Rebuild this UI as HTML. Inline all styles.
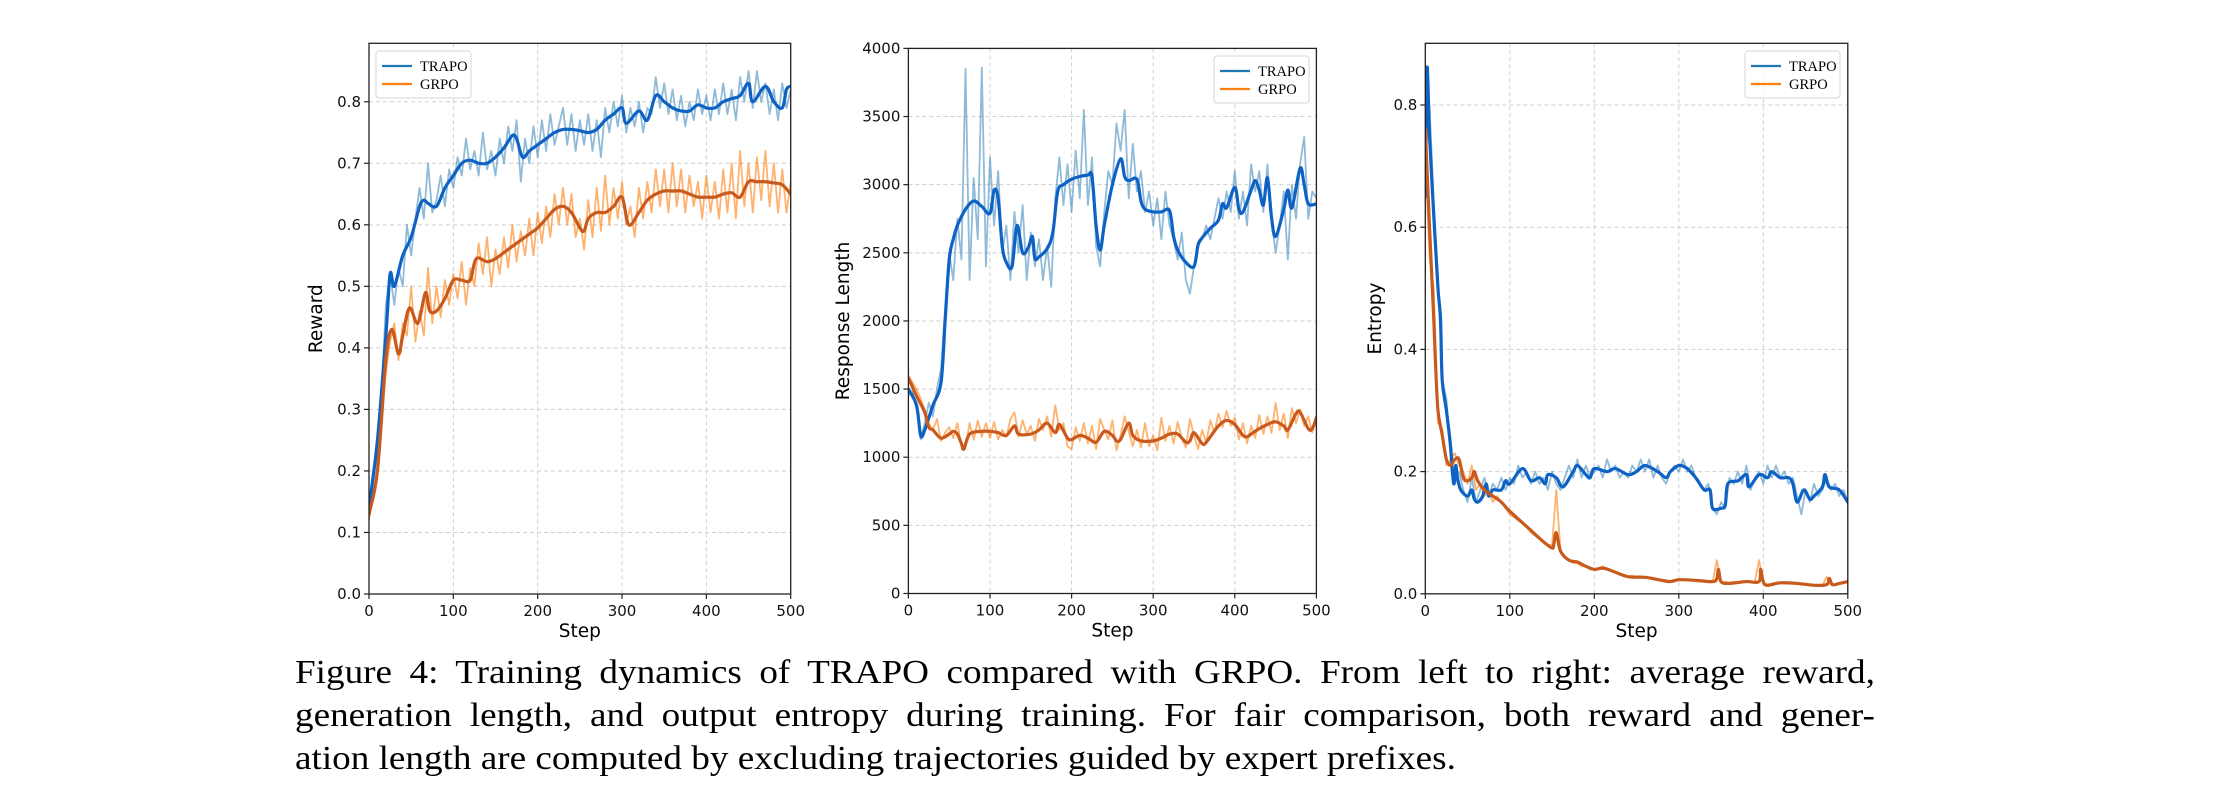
<!DOCTYPE html>
<html><head><meta charset="utf-8">
<style>
html,body{margin:0;padding:0;background:#fff;width:2214px;height:808px;overflow:hidden}
#fig{position:absolute;left:0;top:0}
#caption{position:absolute;left:295px;top:651px;width:1445.5px;transform:scaleX(1.093);transform-origin:0 0;font-family:"Liberation Serif",serif;font-size:34px;line-height:43px;color:#000;text-align:justify}
#caption span{display:block}
</style></head><body>
<svg id="fig" width="2214" height="650" xmlns="http://www.w3.org/2000/svg"></svg>
<div id="caption"><span style="text-align-last:justify">Figure 4: Training dynamics of TRAPO compared with GRPO. From left to right: average reward,</span><span style="text-align-last:justify">generation length, and output entropy during training. For fair comparison, both reward and gener-</span><span>ation length are computed by excluding trajectories guided by expert prefixes.</span></div>
<script>
// ---------- data ----------
const RAW_STEP = 5;
// Chart 1: reward
const rewardTrapoRaw=[0.15,0.20,0.22,0.33,0.47,0.52,0.47,0.53,0.50,0.60,0.55,0.61,0.66,0.61,0.70,0.62,0.64,0.68,0.63,0.69,0.66,0.71,0.68,0.74,0.69,0.72,0.68,0.75,0.69,0.72,0.68,0.74,0.70,0.76,0.72,0.77,0.67,0.74,0.70,0.76,0.71,0.77,0.72,0.78,0.73,0.76,0.79,0.73,0.78,0.72,0.77,0.73,0.78,0.72,0.77,0.71,0.79,0.75,0.80,0.76,0.81,0.75,0.79,0.76,0.80,0.75,0.79,0.78,0.84,0.79,0.83,0.78,0.82,0.77,0.81,0.76,0.80,0.77,0.82,0.78,0.81,0.77,0.82,0.78,0.83,0.78,0.82,0.77,0.84,0.80,0.85,0.79,0.85,0.80,0.83,0.78,0.82,0.77,0.83,0.79,0.82];
const rewardGrpoRaw=[0.12,0.16,0.19,0.30,0.36,0.41,0.44,0.38,0.44,0.42,0.50,0.41,0.46,0.42,0.53,0.44,0.50,0.45,0.51,0.47,0.52,0.48,0.54,0.47,0.53,0.50,0.57,0.52,0.58,0.50,0.56,0.52,0.58,0.53,0.60,0.54,0.59,0.55,0.61,0.55,0.62,0.57,0.63,0.58,0.65,0.60,0.66,0.60,0.65,0.58,0.61,0.56,0.64,0.58,0.66,0.59,0.68,0.60,0.66,0.61,0.67,0.60,0.63,0.58,0.66,0.61,0.67,0.62,0.69,0.63,0.69,0.62,0.70,0.63,0.69,0.62,0.68,0.63,0.67,0.61,0.68,0.62,0.67,0.61,0.69,0.62,0.70,0.61,0.72,0.63,0.70,0.62,0.71,0.64,0.72,0.63,0.70,0.62,0.69,0.62,0.67];
const rewardTrapoSteps=[0,10,20,25,30,40,50,60,65,70,80,90,100,110,120,130,140,150,160,170,175,182,190,200,210,220,230,240,250,260,270,280,290,300,305,320,330,340,350,360,370,380,390,400,410,420,430,440,450,455,470,480,490,495,500];
const rewardTrapoSmooth=[0.14,0.25,0.42,0.52,0.50,0.55,0.58,0.63,0.64,0.635,0.63,0.66,0.68,0.70,0.705,0.70,0.70,0.71,0.725,0.745,0.74,0.71,0.72,0.73,0.74,0.75,0.755,0.755,0.753,0.75,0.755,0.77,0.78,0.79,0.765,0.785,0.77,0.81,0.80,0.79,0.785,0.785,0.795,0.79,0.79,0.80,0.805,0.81,0.83,0.80,0.825,0.80,0.79,0.82,0.825];
const rewardGrpoSteps=[0,10,20,27,35,40,48,58,67,72,80,90,100,110,120,127,140,150,160,170,180,190,200,210,220,230,240,250,255,260,270,280,290,300,308,320,330,340,350,360,370,380,390,400,410,420,430,440,450,460,470,480,490,500];
const rewardGrpoSmooth=[0.13,0.20,0.38,0.43,0.39,0.42,0.465,0.44,0.49,0.46,0.46,0.48,0.51,0.51,0.51,0.545,0.54,0.545,0.555,0.565,0.575,0.585,0.595,0.61,0.625,0.63,0.62,0.595,0.59,0.61,0.62,0.62,0.63,0.645,0.60,0.62,0.64,0.65,0.655,0.655,0.655,0.65,0.645,0.645,0.645,0.65,0.652,0.645,0.67,0.67,0.67,0.668,0.665,0.65];
// Chart 2: response length
const lenTrapoRaw=[1450,1480,1350,1130,1250,1400,1300,1500,1650,2100,2500,2300,2750,2450,3850,2300,3050,2600,3860,2400,3200,2700,3100,2500,2700,2300,2800,2500,2850,2300,2650,2400,2600,2300,2550,2250,2900,3200,2850,3150,2800,3250,2900,3550,2850,3200,2550,2400,2800,3100,3000,3450,3250,3550,2900,3300,2950,3100,2800,2950,2700,2900,2600,2950,2700,2600,2450,2650,2300,2200,2400,2550,2600,2700,2600,2750,2900,2750,2950,2800,3100,2750,2950,2700,3150,2950,3100,2800,3150,2750,2500,2700,2950,2450,3000,2750,3150,3350,2750,2950,2900];
const lenGrpoRaw=[1600,1550,1500,1430,1350,1250,1200,1280,1120,1180,1220,1140,1250,1080,1070,1250,1130,1270,1150,1250,1140,1260,1130,1200,1150,1280,1330,1150,1270,1170,1230,1120,1280,1200,1300,1150,1380,1200,1250,1080,1060,1220,1120,1250,1100,1230,1060,1280,1200,1130,1270,1050,1160,1300,1190,1080,1200,1070,1250,1080,1160,1050,1290,1120,1230,1100,1260,1140,1070,1280,1160,1060,1200,1110,1270,1180,1320,1220,1340,1230,1290,1130,1250,1100,1230,1140,1310,1170,1300,1180,1400,1200,1320,1140,1360,1250,1350,1230,1300,1180,1310];
const lenTrapoSteps=[0,10,15,20,30,40,45,50,55,60,70,80,90,100,105,110,115,120,127,133,140,147,152,155,160,170,177,183,190,200,210,220,225,230,235,240,250,260,265,270,280,285,290,300,310,320,325,330,340,350,355,360,370,380,385,390,400,405,410,420,425,430,435,440,445,450,460,465,470,480,485,490,500];
const lenTrapoSmooth=[1500,1380,1160,1200,1380,1550,2000,2450,2600,2700,2820,2880,2840,2790,2960,2900,2550,2430,2400,2700,2500,2540,2620,2460,2470,2530,2650,2950,3000,3040,3060,3070,3060,2700,2520,2700,3000,3190,3060,3030,3040,2880,2820,2800,2800,2810,2620,2520,2430,2400,2560,2610,2680,2740,2860,2830,2980,2820,2800,2960,3030,2960,2850,3050,2760,2620,2820,2960,2830,3120,3000,2860,2860];
const lenGrpoSteps=[0,10,20,25,30,40,50,55,60,65,68,75,90,100,110,120,130,135,150,160,170,180,185,195,200,210,220,230,240,250,255,260,270,275,285,300,310,320,330,340,345,350,360,365,380,390,400,410,415,420,430,440,450,460,465,475,480,490,495,500];
const lenGrpoSmooth=[1580,1450,1330,1220,1200,1140,1170,1190,1170,1100,1060,1170,1190,1190,1180,1160,1230,1170,1170,1200,1250,1180,1240,1140,1130,1160,1140,1110,1190,1160,1120,1130,1250,1160,1120,1120,1140,1170,1170,1110,1120,1180,1100,1110,1230,1270,1240,1160,1150,1170,1210,1240,1260,1230,1200,1320,1330,1210,1210,1290];
// Chart 3: entropy
const entTrapoRaw=[0.70,0.80,0.64,0.52,0.35,0.32,0.22,0.18,0.20,0.17,0.15,0.19,0.15,0.17,0.19,0.16,0.18,0.17,0.19,0.17,0.19,0.18,0.21,0.19,0.20,0.18,0.20,0.18,0.19,0.17,0.20,0.18,0.17,0.19,0.21,0.19,0.22,0.19,0.21,0.19,0.20,0.21,0.19,0.22,0.20,0.21,0.19,0.20,0.19,0.21,0.20,0.22,0.20,0.22,0.19,0.21,0.19,0.18,0.20,0.21,0.20,0.22,0.20,0.21,0.19,0.18,0.17,0.18,0.14,0.13,0.15,0.14,0.19,0.18,0.20,0.18,0.21,0.17,0.19,0.20,0.18,0.21,0.19,0.21,0.19,0.20,0.18,0.19,0.16,0.13,0.17,0.15,0.18,0.16,0.17,0.19,0.17,0.18,0.16,0.17,0.15];
const entGrpoRaw=[0.72,0.55,0.50,0.28,0.27,0.21,0.22,0.23,0.21,0.20,0.18,0.21,0.17,0.18,0.16,0.17,0.15,0.16,0.15,0.14,0.13,0.125,0.12,0.115,0.11,0.10,0.095,0.09,0.085,0.08,0.08,0.17,0.07,0.06,0.055,0.05,0.05,0.045,0.045,0.04,0.04,0.042,0.045,0.04,0.038,0.035,0.032,0.03,0.028,0.03,0.027,0.028,0.027,0.026,0.025,0.022,0.022,0.02,0.02,0.022,0.023,0.022,0.023,0.022,0.021,0.02,0.02,0.02,0.019,0.055,0.018,0.02,0.018,0.02,0.019,0.02,0.02,0.019,0.02,0.055,0.018,0.015,0.017,0.018,0.018,0.017,0.018,0.017,0.016,0.016,0.015,0.015,0.014,0.013,0.014,0.028,0.014,0.015,0.016,0.017,0.02];
const entTrapoSteps=[0,2,5,10,15,18,20,25,30,32,34,36,38,42,50,55,58,62,68,72,75,80,90,95,100,115,125,135,142,145,155,163,175,180,190,195,200,215,225,240,250,260,275,285,290,300,310,320,330,337,340,350,355,358,370,380,383,395,405,410,420,430,435,440,448,455,460,470,473,478,490,500];
const entTrapoSmooth=[0.65,0.86,0.75,0.62,0.50,0.45,0.35,0.30,0.24,0.20,0.18,0.21,0.19,0.17,0.16,0.17,0.155,0.15,0.16,0.18,0.16,0.17,0.17,0.185,0.18,0.205,0.185,0.19,0.18,0.195,0.19,0.175,0.20,0.21,0.195,0.19,0.205,0.20,0.205,0.195,0.20,0.21,0.20,0.19,0.20,0.21,0.205,0.19,0.17,0.17,0.14,0.14,0.145,0.18,0.185,0.195,0.175,0.195,0.19,0.20,0.19,0.19,0.18,0.15,0.17,0.155,0.16,0.175,0.195,0.175,0.17,0.15];
const entGrpoSteps=[0,5,10,12,15,20,25,30,35,40,45,50,55,58,62,70,80,90,100,120,140,150,152,155,160,170,180,190,200,210,220,240,260,280,290,300,320,340,345,347,350,360,380,395,397,402,420,440,460,475,478,482,490,500];
const entGrpoSmooth=[0.76,0.60,0.45,0.38,0.30,0.26,0.22,0.21,0.22,0.22,0.19,0.185,0.19,0.20,0.185,0.17,0.16,0.15,0.135,0.11,0.085,0.075,0.08,0.10,0.07,0.055,0.052,0.045,0.04,0.042,0.038,0.028,0.027,0.022,0.02,0.023,0.022,0.02,0.025,0.04,0.02,0.017,0.02,0.02,0.04,0.015,0.018,0.017,0.014,0.015,0.025,0.015,0.017,0.02];
const xTicks=[0,100,200,300,400,500];
const rewardTicks=[0,0.1,0.2,0.3,0.4,0.5,0.6,0.7,0.8];
const rewardTickLabels=["0.0","0.1","0.2","0.3","0.4","0.5","0.6","0.7","0.8"];
const lenTicks=[0,500,1000,1500,2000,2500,3000,3500,4000];
const lenTickLabels=["0","500","1000","1500","2000","2500","3000","3500","4000"];
const entTicks=[0,0.2,0.4,0.6,0.8];
const entTickLabels=["0.0","0.2","0.4","0.6","0.8"];

// ---------- drawing ----------
const NS="http://www.w3.org/2000/svg";
const svg=document.getElementById('fig');
function mk(tag,attrs,parent){const e=document.createElementNS(NS,tag);for(const k in attrs)e.setAttribute(k,attrs[k]);(parent||svg).appendChild(e);return e;}
function smoothPath(pts){
  let d='M'+pts[0][0].toFixed(2)+','+pts[0][1].toFixed(2);
  for(let i=0;i<pts.length-1;i++){
    const p0=pts[i-1]||pts[i],p1=pts[i],p2=pts[i+1],p3=pts[i+2]||p2;
    const c1=[p1[0]+(p2[0]-p0[0])/6,p1[1]+(p2[1]-p0[1])/6];
    const c2=[p2[0]-(p3[0]-p1[0])/6,p2[1]-(p3[1]-p1[1])/6];
    d+='C'+c1[0].toFixed(2)+','+c1[1].toFixed(2)+' '+c2[0].toFixed(2)+','+c2[1].toFixed(2)+' '+p2[0].toFixed(2)+','+p2[1].toFixed(2);
  }
  return d;
}
function chart(cfg){
  const g=mk('g',{});
  
  
  const {L,R,T,B,ymax}=cfg;
  const sx=s=>L+(s/500)*(R-L);
  const sy=v=>B-(v/ymax)*(B-T);
  const clipId='clip-'+cfg.name;
  const cp=mk('clipPath',{id:clipId},g);mk('rect',{x:L,y:T,width:R-L,height:B-T},cp);
  xTicks.forEach(t=>{const l=mk('line',{x1:sx(t),x2:sx(t),y1:T,y2:B,stroke:'#cfcfcf','stroke-width':1,'stroke-dasharray':'4,3'},g);
    
    });
  cfg.yTicks.forEach(t=>{const l=mk('line',{x1:L,x2:R,y1:sy(t),y2:sy(t),stroke:'#cfcfcf','stroke-width':1,'stroke-dasharray':'4,3'},g);
    
    });
  const pg=mk('g',{'clip-path':'url(#'+clipId+')'},g);
  function rawLine(arr,color,op,name){
    const pts=arr.map((v,i)=>sx(i*RAW_STEP).toFixed(2)+','+sy(v).toFixed(2)).join(' ');
    const p=mk('polyline',{points:pts,fill:'none',stroke:color,'stroke-opacity':op,'stroke-width':1.8,'stroke-linejoin':'round'},pg);
    
    
  }
  function smLine(steps,vals,color,name){
    const p=mk('path',{d:smoothPath(steps.map((s,i)=>[sx(s),sy(vals[i])])),fill:'none',stroke:color,'stroke-width':3.2,'stroke-linejoin':'round','stroke-linecap':'round'},pg);
    
    
  }
  rawLine(cfg.trapoRaw,'#1f77b4',0.5,'trapo-raw-line');
  rawLine(cfg.grpoRaw,'#ff7f0e',0.6,'grpo-raw-line');
  smLine(cfg.trapoSteps,cfg.trapoSmooth,'#0d62c4','trapo-smoothed-line');
  smLine(cfg.grpoSteps,cfg.grpoSmooth,'#c75a1c','grpo-smoothed-line');
  const fr=mk('rect',{x:L,y:T,width:R-L,height:B-T,fill:'none',stroke:'#222','stroke-width':1.3},g);
  
  
  xTicks.forEach(t=>{mk('line',{x1:sx(t),x2:sx(t),y1:B,y2:B+5,stroke:'#222','stroke-width':1.2},g);
    const tx=mk('text',{x:sx(t),y:B+22,'text-anchor':'middle','font-family':'DejaVu Sans, sans-serif','font-size':15,fill:'#111'},g);
    tx.textContent=t;
    
    });
  cfg.yTicks.forEach((t,i)=>{mk('line',{x1:L-5,x2:L,y1:sy(t),y2:sy(t),stroke:'#222','stroke-width':1.2},g);
    const tx=mk('text',{x:L-8,y:sy(t)+5,'text-anchor':'end','font-family':'DejaVu Sans, sans-serif','font-size':15,fill:'#111'},g);
    tx.textContent=cfg.yLabels[i];
    
    });
  const xl=mk('text',{x:(L+R)/2,y:B+43,'text-anchor':'middle','font-family':'DejaVu Sans, sans-serif','font-size':18.5,fill:'#000'},g);
  xl.textContent='Step';
  
  
  const yl=mk('text',{x:0,y:0,'text-anchor':'middle','font-family':'DejaVu Sans, sans-serif','font-size':18.5,fill:'#000',transform:'translate('+cfg.ylx+','+((T+B)/2)+') rotate(-90)'},g);
  yl.textContent=cfg.ylabel;
  
  
  const lg=mk('g',{},g);
  
  
  const lx=cfg.legX,ly=cfg.legY;
  mk('rect',{x:lx,y:ly,width:95,height:47,rx:3,fill:'#fff','fill-opacity':0.8,stroke:'#d6d6d6','stroke-width':1},lg);
  [['TRAPO','#1f77b4'],['GRPO','#ff7f0e']].forEach((e,i)=>{
    const eg=mk('g',{},lg);
    
    
    mk('line',{x1:lx+6,x2:lx+36,y1:ly+15+i*18,y2:ly+15+i*18,stroke:e[1],'stroke-width':2.2},eg);
    const t=mk('text',{x:lx+44,y:ly+20+i*18,'font-family':'Liberation Serif, serif','font-size':14.5,fill:'#000'},eg);
    t.textContent=e[0];
  });
}
chart({name:'reward-chart',L:369,R:790.7,T:43.3,B:594,ymax:0.895,yTicks:rewardTicks,yLabels:rewardTickLabels,ylabel:'Reward',ylx:322,
  trapoRaw:rewardTrapoRaw,grpoRaw:rewardGrpoRaw,trapoSteps:rewardTrapoSteps,trapoSmooth:rewardTrapoSmooth,grpoSteps:rewardGrpoSteps,grpoSmooth:rewardGrpoSmooth,legX:376,legY:51});
chart({name:'response-length-chart',L:908.4,R:1316.4,T:48.4,B:593.5,ymax:4000,yTicks:lenTicks,yLabels:lenTickLabels,ylabel:'Response Length',ylx:849,
  trapoRaw:lenTrapoRaw,grpoRaw:lenGrpoRaw,trapoSteps:lenTrapoSteps,trapoSmooth:lenTrapoSmooth,grpoSteps:lenGrpoSteps,grpoSmooth:lenGrpoSmooth,legX:1214,legY:56});
chart({name:'entropy-chart',L:1425.3,R:1847.8,T:43.3,B:593.8,ymax:0.901,yTicks:entTicks,yLabels:entTickLabels,ylabel:'Entropy',ylx:1381,
  trapoRaw:entTrapoRaw,grpoRaw:entGrpoRaw,trapoSteps:entTrapoSteps,trapoSmooth:entTrapoSmooth,grpoSteps:entGrpoSteps,grpoSmooth:entGrpoSmooth,legX:1745,legY:51});
</script>
</body></html>
